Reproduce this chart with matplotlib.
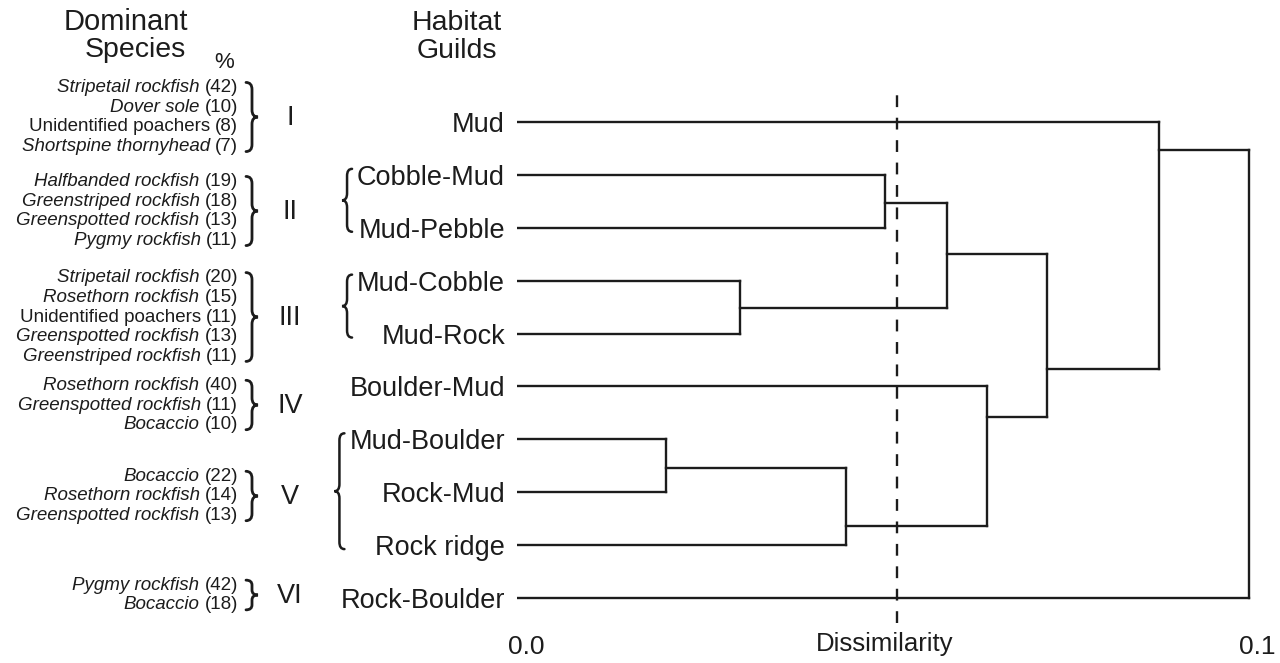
import numpy as np
import matplotlib.pyplot as plt
from matplotlib.path import Path
from matplotlib.patches import PathPatch
from matplotlib.transforms import ScaledTranslation

plt.rcParams['font.family'] = ['Liberation Sans', 'DejaVu Sans']
INK = '#1c1c1c'

# habitat guilds = dendrogram leaves, top to bottom
habitats = ['Mud', 'Cobble-Mud', 'Mud-Pebble', 'Mud-Cobble', 'Mud-Rock',
            'Boulder-Mud', 'Mud-Boulder', 'Rock-Mud', 'Rock ridge', 'Rock-Boulder']

# merges: children (leaf < 10, merged node >= 10), dissimilarity, drawn row of the node
merge_left = [6, 3, 10, 1, 13, 5, 14, 0, 17]
merge_right = [7, 4, 8, 2, 11, 12, 15, 16, 9]
merge_height = [0.0201, 0.0301, 0.0444, 0.0497, 0.0581, 0.0635, 0.0716, 0.0867, 0.0989]
merge_row = [6.54, 3.52, 7.64, 1.53, 2.50, 5.58, 4.67, 0.53, 4.5]
cutoff = 0.0513

# leaves bracketed together on the left of the tree
habitat_braces = [(1, 2), (3, 4), (6, 8)]

# dominant species per guild
guild_numerals = ['I', 'II', 'III', 'IV', 'V', 'VI']
species_group = [0, 0, 0, 0, 1, 1, 1, 1, 2, 2, 2, 2, 2, 3, 3, 3, 4, 4, 4, 5, 5]
species_names = ['Stripetail rockfish', 'Dover sole', 'Unidentified poachers', 'Shortspine thornyhead',
                 'Halfbanded rockfish', 'Greenstriped rockfish', 'Greenspotted rockfish', 'Pygmy rockfish',
                 'Stripetail rockfish', 'Rosethorn rockfish', 'Unidentified poachers',
                 'Greenspotted rockfish', 'Greenstriped rockfish',
                 'Rosethorn rockfish', 'Greenspotted rockfish', 'Bocaccio',
                 'Bocaccio', 'Rosethorn rockfish', 'Greenspotted rockfish',
                 'Pygmy rockfish', 'Bocaccio']
species_pct = [42, 10, 8, 7, 19, 18, 13, 11, 20, 15, 11, 13, 11, 40, 11, 10, 22, 14, 13, 42, 18]

# layout of the species column (pixels from top)
group_center = [117, 211, 317, 405, 496, 595]
line_step = 19.7


def brace(axis, x, y0, y1, w, sign, lw=1.8):
    ym = (y0 + y1) / 2
    xm = x + sign * w / 2
    xt = x + sign * w
    q = min(7, (y1 - y0) / 6)
    verts = [(x, y0), (xm, y0), (xm, y0 + q), (xm, ym - q), (xm, ym), (xt, ym),
             (xm, ym), (xm, ym + q), (xm, y1 - q), (xm, y1), (x, y1)]
    codes = [Path.MOVETO, Path.CURVE3, Path.CURVE3, Path.LINETO, Path.CURVE3, Path.CURVE3,
             Path.CURVE3, Path.CURVE3, Path.LINETO, Path.CURVE3, Path.CURVE3]
    axis.add_patch(PathPatch(Path(verts, codes), fill=False, lw=lw, color=INK, capstyle='round'))


fig = plt.figure(figsize=(12.8, 6.63), dpi=100)
W, H = 1280, 663

# overlay in pixel units for the left-hand columns
lax = fig.add_axes([0, 0, 1, 1])
lax.set_xlim(0, W)
lax.set_ylim(H, 0)
lax.set_axis_off()

ax = fig.add_axes([517 / W, 40 / H, 740 / W, 530 / H])
ax.set_xlim(0, 0.1)
ax.set_ylim(9.473, -0.548)

# dendrogram
row = {i: float(i) for i in range(len(habitats))}
hgt = {i: 0.0 for i in range(len(habitats))}
for k, (a, b, h, r) in enumerate(zip(merge_left, merge_right, merge_height, merge_row)):
    for c in (a, b):
        ax.plot([hgt[c], h], [row[c], row[c]], color=INK, lw=1.7, solid_capstyle='projecting')
    ax.plot([h, h], [row[a], row[b]], color=INK, lw=1.7, solid_capstyle='projecting')
    node = len(habitats) + k
    row[node] = r
    hgt[node] = h

ax.axvline(cutoff, color=INK, lw=1.7, linestyle=(0, (5, 4.5)))

for s in ax.spines.values():
    s.set_visible(False)
ax.set_yticks(range(len(habitats)), habitats, fontsize=19.5, color=INK)
ax.tick_params(axis='y', length=0, pad=8.6)
ax.set_xticks([0, 0.1], ['0.0', '0.1'], fontsize=19, color=INK)
ax.tick_params(axis='x', length=0, pad=8.5)
ax.get_xticklabels()[0].set_transform(
    ax.get_xticklabels()[0].get_transform() + ScaledTranslation(9 / 100, 0, fig.dpi_scale_trans))
ax.set_xlabel('Dissimilarity', fontsize=18.5, color=INK)
ax.xaxis.set_label_coords(0.497, -0.017)

# headers
lax.text(126, 22, 'Dominant', fontsize=21, ha='center', va='center', color=INK)
lax.text(135, 50, 'Species', fontsize=20.5, ha='center', va='center', color=INK)
lax.text(224, 62, '%', fontsize=16, ha='center', va='center', color=INK)
lax.text(457, 23, 'Habitat', fontsize=20.5, ha='center', va='center', color=INK)
lax.text(457, 51, 'Guilds', fontsize=20.5, ha='center', va='center', color=INK)

# species column
for g, numeral in enumerate(guild_numerals):
    idx = [i for i, sg in enumerate(species_group) if sg == g]
    n = len(idx)
    ys = [group_center[g] + (j - (n - 1) / 2) * line_step for j in range(n)]
    for i, y in zip(idx, ys):
        pct = lax.text(238, y, f'({species_pct[i]})', fontsize=13.5, ha='right', va='center', color=INK)
        style = 'normal' if species_names[i].startswith('Unidentified') else 'italic'
        lax.annotate(species_names[i], xy=(0, 0.5), xycoords=pct, xytext=(-3.75, 0),
                     textcoords='offset points', fontsize=13.5, style=style,
                     ha='right', va='center', color=INK)
    brace(lax, 246, ys[0] - 5, ys[-1] + 5, 12, +1, lw=2.0)
    lax.text(290, group_center[g] + 1, numeral, fontsize=19.5, ha='center', va='center', color=INK)

# braces in front of bracketed habitat labels
fig.canvas.draw()
renderer = fig.canvas.get_renderer()
labels = ax.get_yticklabels()
for first, last in habitat_braces:
    left = min(labels[i].get_window_extent(renderer).x0 for i in range(first, last + 1))
    ytop = H - ax.transData.transform((0, first))[1]
    ybot = H - ax.transData.transform((0, last))[1]
    brace(lax, left - 5, ytop - 6, ybot + 4, 10, -1)

fig.savefig('out.png', dpi=100, facecolor='white')
